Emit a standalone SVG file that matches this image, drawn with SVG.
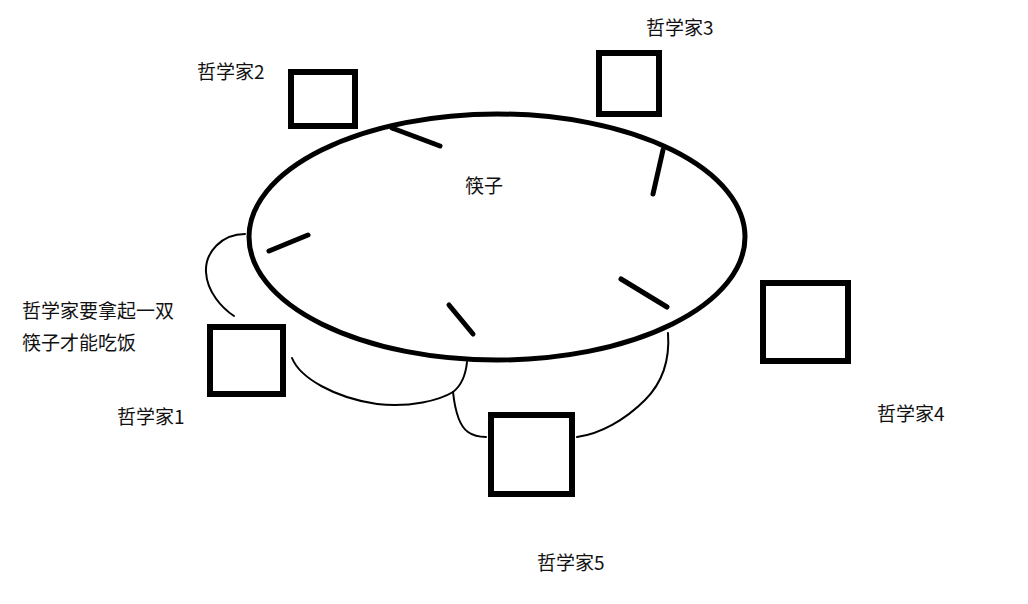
<svg xmlns="http://www.w3.org/2000/svg" width="1028" height="604" viewBox="0 0 1028 604">
<style>
.box{fill:none;stroke:#000;stroke-width:6;stroke-linejoin:miter}
.table{fill:none;stroke:#000;stroke-width:5}
.stick{stroke:#000;stroke-width:5;stroke-linecap:round}
.link{fill:none;stroke:#000;stroke-width:2;stroke-linecap:round}
text{font-family:"Noto Sans CJK SC","Noto Sans",sans-serif;font-size:19px;fill:#111}
</style>
<rect width="1028" height="604" fill="#fff"/>
<g id="table">
<ellipse class="table" cx="497" cy="237" rx="248" ry="123"/>
<text x="465" y="193">筷子</text>
</g>
<g id="chopsticks">
<line class="stick" x1="392" y1="128" x2="440" y2="146"/>
<line class="stick" x1="663" y1="150" x2="653" y2="194"/>
<line class="stick" x1="269" y1="251" x2="308" y2="235"/>
<line class="stick" x1="449" y1="305" x2="473" y2="334"/>
<line class="stick" x1="621" y1="279" x2="667" y2="307"/>
</g>
<g id="philosopher1">
<rect class="box" x="210" y="327" width="73" height="67"/>
<text x="117" y="424">哲学家1</text>
</g>
<g id="philosopher2">
<rect class="box" x="291" y="72" width="64" height="54"/>
<text x="197" y="79">哲学家2</text>
</g>
<g id="philosopher3">
<rect class="box" x="599" y="53" width="60" height="61"/>
<text x="646" y="35">哲学家3</text>
</g>
<g id="philosopher4">
<rect class="box" x="763" y="283" width="85" height="78"/>
<text x="877" y="421">哲学家4</text>
</g>
<g id="philosopher5">
<rect class="box" x="491" y="415" width="81" height="79"/>
<text x="537" y="570">哲学家5</text>
</g>
<g id="note">
<text x="22" y="318">哲学家要拿起一双</text>
<text x="22" y="350">筷子才能吃饭</text>
</g>
<g id="connectors">
<path class="link" d="M245,234 C222,234 205,252 206,272 C207,292 222,308 234,316"/>
<path class="link" d="M292,358 C300,378 335,398 377,404 C410,408 440,400 453,392 C462,385 466,372 467,362"/>
<path class="link" d="M453,392 C455,410 459,426 468,432 C475,437 481,437 486,437"/>
<path class="link" d="M577,437 C600,434 625,420 645,400 C662,383 670,360 668,333"/>
</g>
</svg>
